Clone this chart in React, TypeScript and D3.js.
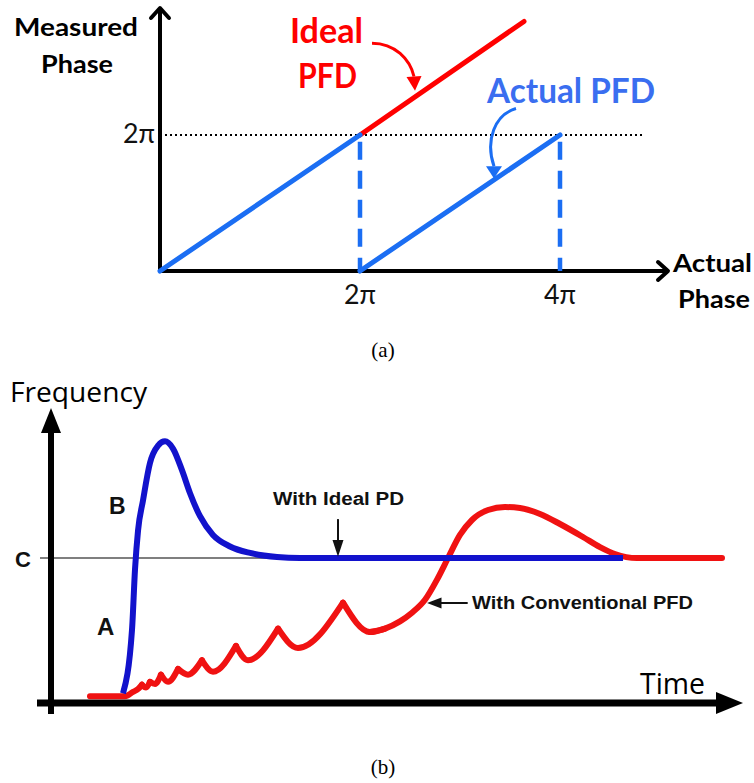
import React, { useEffect } from "react";
import * as d3 from "d3";

// ---------- (a) Measured vs actual phase ----------
const phaseTicks = [2, 4];
const phaseTickLabels = ["2π", "4π"];
const measuredTicks = [2];
const measuredTickLabels = ["2π"];
const idealPhaseX = [2, 3.64];
const idealPhaseY = [2, 3.67];
const actualSeg1X = [0, 2];
const actualSeg1Y = [0, 2];
const actualSeg2X = [2, 4];
const actualSeg2Y = [0, 2];
const wrapPoints = [2, 4];

// ---------- (b) Frequency vs time ----------
const idealT = [10.73, 12.07, 12.52, 12.97, 13.71, 14.75, 15.95, 16.99, 18.18, 19.52, 20.72, 22.21, 24.14, 26.68, 29.66, 33.68, 37.11, 85.25];
const idealF = [0.06, 0.5, 0.92, 1.19, 1.4, 1.66, 1.78, 1.81, 1.76, 1.61, 1.45, 1.29, 1.16, 1.08, 1.035, 1.007, 1.0, 1.0];

const convLeadT = [5.81, 11.03, 12.22, 12.97, 13.56];
const convLeadF = [0.04, 0.04, 0.07, 0.09, 0.12];
const convPeakT = [13.56, 14.75, 16.39, 18.93, 22.5, 27.57, 33.83, 43.52];
const convPeakF = [0.12, 0.14, 0.19, 0.23, 0.29, 0.39, 0.51, 0.69];
const convTroughT = [14.16, 15.5, 17.44, 20.42, 24.14, 29.36, 36.81];
const convTroughF = [0.1, 0.125, 0.14, 0.19, 0.21, 0.29, 0.375];
const convTailT = [43.52, 47.54, 49.78, 52.01, 53.8, 55.74, 57.53, 59.17, 60.95, 62.74, 65.13, 67.66, 69.9, 72.88, 75.86, 79.28, 81.82, 84.05, 87.33, 100];
const convTailF = [0.69, 0.486, 0.51, 0.56, 0.62, 0.71, 0.85, 1.0, 1.16, 1.264, 1.333, 1.354, 1.347, 1.306, 1.236, 1.146, 1.076, 1.028, 1.0, 1.0];

const lockFreq = 1.0;

type P = [number, number];
const zip = (a: number[], b: number[]): P[] => a.map((v, i) => [v, b[i]]);

function arrowHead(end: P, tip: P, w: number) {
  const dx = tip[0] - end[0];
  const dy = tip[1] - end[1];
  const L = Math.hypot(dx, dy) || 1;
  const nx = -dy / L, ny = dx / L;
  return `M${tip[0]},${tip[1]}L${end[0] + nx * w / 2},${end[1] + ny * w / 2}L${end[0] - nx * w / 2},${end[1] - ny * w / 2}Z`;
}

export default function App() {
  useEffect(() => {
    document.body.style.margin = "0";
  }, []);

  const xa = d3.scaleLinear().domain([0, 4]).range([160, 560]);
  const ya = d3.scaleLinear().domain([0, 2]).range([271, 135]);
  const la = d3.line<P>().x(d => xa(d[0])).y(d => ya(d[1]));

  const xb = d3.scaleLinear().domain([0, 100]).range([51, 722]);
  const yb = d3.scaleLinear().domain([0, 1]).range([702, 558]);
  const lbSmooth = d3.line<P>().x(d => xb(d[0])).y(d => yb(d[1])).curve(d3.curveMonotoneX);
  const lbNatural = d3.line<P>().x(d => xb(d[0])).y(d => yb(d[1])).curve(d3.curveBasis);

  const blueA = "#1b6ef3";
  const redA = "#ff0000";
  const blueB = "#1212cc";
  const redB = "#f01212";

  const convPaths: string[] = [];
  convPaths.push(lbSmooth(zip(convLeadT, convLeadF)) || "");
  for (let i = 0; i < convTroughT.length; i++) {
    const seg: P[] = [
      [convPeakT[i], convPeakF[i]],
      [convTroughT[i], convTroughF[i]],
      [convPeakT[i + 1], convPeakF[i + 1]],
    ];
    convPaths.push(lbSmooth(seg) || "");
  }
  const tail = zip(convTailT, convTailF);
  convPaths.push(lbSmooth(tail.slice(0, 3)) || "");
  convPaths.push(lbSmooth(tail.slice(1)) || "");

  const idealArrow = { s: [2.12, 3.35], c1: [2.35, 3.35], c2: [2.5, 3.11], e: [2.54, 2.86], tip: [2.55, 2.65] };
  const actualArrow = { s: [3.56, 2.39], c1: [3.35, 2.3], c2: [3.25, 1.93], e: [3.34, 1.54], tip: [3.34, 1.36] };
  const px = (p: number[]): P => [xa(p[0]), ya(p[1])];
  const curvePath = (a: any) => {
    const s = px(a.s), c1 = px(a.c1), c2 = px(a.c2), e = px(a.e);
    return `M${s[0]},${s[1]}C${c1[0]},${c1[1]} ${c2[0]},${c2[1]} ${e[0]},${e[1]}`;
  };

  const fontA = "Lato, 'Open Sans', sans-serif";
  const fontB = "'Liberation Sans', Arial, sans-serif";

  const idealPdX = xb(42.77);
  const convArrowY = yb(0.6875);

  return (
    <svg width={754} height={783} style={{ position: "absolute", left: 0, top: 0, background: "#fff" }}>
      {/* ================= (a) ================= */}
      <line x1={xa(0.05)} x2={xa(4.85)} y1={ya(2)} y2={ya(2)} stroke="#000" strokeWidth={2} strokeDasharray="2,3" />
      <line x1={xa(0)} x2={xa(0)} y1={ya(0) + 1} y2={10} stroke="#000" strokeWidth={4} />
      <path d={`M${xa(0) - 9},${18}L${xa(0)},${8}L${xa(0) + 9},${18}`} fill="none" stroke="#000" strokeWidth={4} strokeLinecap="round" strokeLinejoin="round" />
      <line x1={xa(0)} x2={666} y1={ya(0)} y2={ya(0)} stroke="#000" strokeWidth={4} />
      <path d={`M${658},${ya(0) - 9}L${668},${ya(0)}L${658},${ya(0) + 9}`} fill="none" stroke="#000" strokeWidth={4} strokeLinecap="round" strokeLinejoin="round" />

      {wrapPoints.map((w, i) => (
        <line key={i} x1={xa(w)} x2={xa(w)} y1={ya(1.9)} y2={ya(0)} stroke={blueA} strokeWidth={4.5} strokeDasharray="18,11" />
      ))}

      <path d={la(zip(idealPhaseX, idealPhaseY)) || ""} stroke={redA} strokeWidth={5} fill="none" strokeLinecap="round" />
      <path d={la(zip(actualSeg1X, actualSeg1Y)) || ""} stroke={blueA} strokeWidth={5} fill="none" strokeLinecap="round" />
      <path d={la(zip(actualSeg2X, actualSeg2Y)) || ""} stroke={blueA} strokeWidth={5} fill="none" strokeLinecap="round" />

      <path d={curvePath(idealArrow)} stroke={redA} strokeWidth={3} fill="none" />
      <path d={arrowHead(px(idealArrow.e), px(idealArrow.tip), 15)} fill={redA} />
      <path d={curvePath(actualArrow)} stroke={blueA} strokeWidth={3} fill="none" />
      <path d={arrowHead(px(actualArrow.e), px(actualArrow.tip), 16)} fill={blueA} />

      <g fontFamily={fontA} fontWeight="bold" fontSize={25} fill="#000">
        <text x={14} y={36} textLength={124} lengthAdjust="spacingAndGlyphs">Measured</text>
        <text x={41} y={73} textLength={72} lengthAdjust="spacingAndGlyphs">Phase</text>
        <text x={673} y={272} textLength={79} lengthAdjust="spacingAndGlyphs">Actual</text>
        <text x={678} y={308} textLength={72} lengthAdjust="spacingAndGlyphs">Phase</text>
      </g>
      <g fontFamily={fontA} fontWeight="bold" fontSize={34}>
        <text x={290} y={43} fill={redA} textLength={73} lengthAdjust="spacingAndGlyphs">Ideal</text>
        <text x={298} y={88} fill={redA} textLength={59} lengthAdjust="spacingAndGlyphs">PFD</text>
        <text x={487} y={103} fill="#3a6ef0" textLength={168} lengthAdjust="spacingAndGlyphs">Actual PFD</text>
      </g>
      <g fontFamily={fontA} fontSize={26} fill="#111">
        {measuredTicks.map((t, i) => (
          <text key={i} x={xa(0) - 5} y={ya(t) + 8} textAnchor="end" textLength={32} lengthAdjust="spacingAndGlyphs">{measuredTickLabels[i]}</text>
        ))}
        {phaseTicks.map((t, i) => (
          <text key={i} x={xa(t)} y={304} textAnchor="middle" textLength={32} lengthAdjust="spacingAndGlyphs">{phaseTickLabels[i]}</text>
        ))}
      </g>
      <text x={383} y={357} textAnchor="middle" fontFamily="'Liberation Serif', 'Times New Roman', serif" fontSize={21} fill="#000">(a)</text>

      {/* ================= (b) ================= */}
      <line x1={40} x2={xb(100)} y1={yb(lockFreq)} y2={yb(lockFreq)} stroke="#555" strokeWidth={1.3} />
      <line x1={51} x2={51} y1={714} y2={428} stroke="#000" strokeWidth={6} />
      <path d="M41,433L51,408L61,433Z" fill="#000" />
      <line x1={37} x2={720} y1={703} y2={703} stroke="#000" strokeWidth={7} />
      <path d="M716,692L743,703L716,714Z" fill="#000" />

      {convPaths.map((d, i) => (
        <path key={i} d={d} stroke={redB} strokeWidth={6} fill="none" strokeLinecap="round" strokeLinejoin="round" />
      ))}
      <path d={lbSmooth(zip(idealT, idealF)) || ""} stroke={blueB} strokeWidth={6} fill="none" strokeLinejoin="round" />

      <line x1={idealPdX} x2={idealPdX} y1={yb(1.27)} y2={yb(1.1)} stroke="#111" strokeWidth={2} />
      <path d={`M${idealPdX},${yb(1.008)}L${idealPdX - 5.5},${yb(1.125)}L${idealPdX + 5.5},${yb(1.125)}Z`} fill="#111" />
      <line x1={xb(62.1)} x2={xb(57.5)} y1={convArrowY} y2={convArrowY} stroke="#111" strokeWidth={2} />
      <path d={`M${xb(56.05)},${convArrowY}L${xb(58.2)},${convArrowY - 5.5}L${xb(58.2)},${convArrowY + 5.5}Z`} fill="#111" />

      <g fontFamily={fontB} fontWeight="bold" fill="#111">
        <text x={273} y={505} fontSize={18} textLength={131} lengthAdjust="spacingAndGlyphs">With Ideal PD</text>
        <text x={472} y={609} fontSize={19} textLength={221} lengthAdjust="spacingAndGlyphs">With Conventional PFD</text>
        <text x={109} y={514} fontSize={23}>B</text>
        <text x={97} y={635} fontSize={24}>A</text>
        <text x={15} y={567} fontSize={22}>C</text>
      </g>
      <g fontFamily="'Open Sans', sans-serif" fill="#000">
        <text x={10} y={402} fontSize={27} textLength={137} lengthAdjust="spacingAndGlyphs">Frequency</text>
        <text x={640} y={694} fontSize={29} textLength={65} lengthAdjust="spacingAndGlyphs">Time</text>
      </g>
      <text x={383} y={774} textAnchor="middle" fontFamily="'Liberation Serif', 'Times New Roman', serif" fontSize={21} fill="#000">(b)</text>
    </svg>
  );
}
